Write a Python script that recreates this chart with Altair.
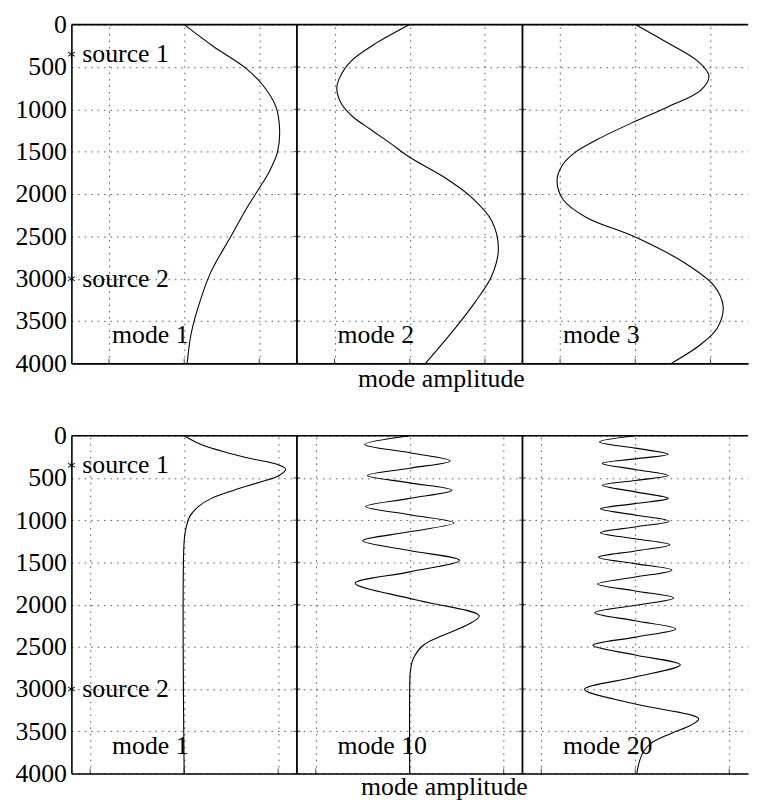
import altair as alt
import pandas as pd

# ---------------- data ----------------
depth_ticks = [0, 500, 1000, 1500, 2000, 2500, 3000, 3500, 4000]
source_labels = ["source 1", "source 2"]
source_depths = [350, 3000]

top_modes = ["mode 1", "mode 2", "mode 3"]
top_depths = [
    [0, 258, 508, 719, 969, 1258, 1508, 1739, 1930, 2200, 2488, 2931, 3354, 3662, 4000],
    [0, 238, 431, 623, 758, 931, 1085, 1238, 1400, 1566, 1815, 2046, 2315, 2642, 2969, 3277, 3623, 4000],
    [0, 200, 431, 604, 777, 969, 1142, 1354, 1508, 1660, 1835, 2065, 2277, 2508, 2815, 3085, 3335, 3585, 3777, 4000],
]
top_amps = [
    [0, 0.39, 0.81, 1.05, 1.22, 1.27, 1.24, 1.13, 1.00, 0.81, 0.63, 0.35, 0.18, 0.09, 0.04],
    [0, -0.48, -0.78, -0.93, -0.97, -0.91, -0.76, -0.52, -0.26, 0, 0.48, 0.83, 1.09, 1.18, 1.09, 0.87, 0.57, 0.21],
    [0, 0.40, 0.83, 0.98, 0.87, 0.44, 0, -0.50, -0.80, -0.97, -1.04, -0.96, -0.65, 0, 0.66, 1.05, 1.17, 1.09, 0.87, 0.48],
]

bottom_modes = ["mode 1", "mode 10", "mode 20"]
bottom_depths = [
    [0, 104, 201, 278, 336, 394, 471, 549, 645, 742, 839, 955, 1090, 1244, 4000],
    [0, 104, 201, 298, 385, 471, 558, 645, 742, 839, 936, 1032, 1138, 1244, 1360, 1476, 1612, 1747,
     1940, 2133, 2230, 2365, 2481, 2635, 2790, 2983, 4000],
    [0, 73, 147, 220, 274, 328, 400, 472, 530, 587, 665, 742, 804, 866, 939, 1012, 1080, 1148, 1220,
     1291, 1365, 1438, 1515, 1592, 1674, 1755, 1838, 1921, 2008, 2095, 2192, 2288, 2385, 2481, 2597,
     2713, 2858, 3003, 3177, 3351, 3428, 3525, 3640, 3737, 3853, 4000],
]
bottom_amps = [
    [0, 0.18, 0.46, 0.74, 0.98, 1.08, 1.01, 0.81, 0.53, 0.29, 0.15, 0.06, 0.02, 0, 0],
    [0, -0.48, 0, 0.43, 0, -0.45, 0, 0.45, 0, -0.47, 0, 0.47, 0, -0.50, 0, 0.53, 0, -0.58,
     0.05, 0.74, 0.63, 0.35, 0.145, 0.04, 0.007, 0, 0],
    [0, -0.38, 0, 0.35, 0, -0.35, 0, 0.35, 0, -0.35, 0, 0.35, 0, -0.37, 0, 0.36, 0, -0.37, 0,
     0.37, 0, -0.39, 0, 0.39, 0, -0.40, 0, 0.41, 0, -0.43, 0, 0.43, 0, -0.45, 0,
     0.48, 0, -0.54, 0, 0.675, 0.59, 0.38, 0.17, 0.09, 0.045, 0.017],
]

FONT = "Liberation Serif"
FS = 26
GRID_DASH = [1.5, 5]


def make_row(modes, depths, amps, half, width, height, title_x, title_y):
    pw = 2 * half                      # width of one panel in amplitude units
    lefts = [pw * i for i in range(3)]
    centers = [l + half for l in lefts]
    seps = lefts[1:]
    grid_vals = [c + g for c in centers for g in (-1, 0, 1)]

    curve_rows = []
    for m, ds, am, c in zip(modes, depths, amps, centers):
        for d, a in zip(ds, am):
            curve_rows.append({"mode": m, "depth": d, "x": c + a})
    curves = pd.DataFrame(curve_rows)

    sep_df = pd.DataFrame({"x": seps})
    top_df = pd.DataFrame({"depth": [0]})
    septick_df = pd.DataFrame([{"x": s, "depth": d} for s in seps for d in depth_ticks])
    btick_df = pd.DataFrame({"x": grid_vals + seps, "depth": [4000] * (len(grid_vals) + len(seps))})
    src_df = pd.DataFrame({"x": [0, 0], "depth": source_depths, "label": source_labels})
    lab_df = pd.DataFrame({"x": lefts, "depth": [3765] * 3, "label": modes})

    X = alt.X(
        "x:Q",
        scale=alt.Scale(domain=[0, 3 * pw], nice=False, zero=False),
        axis=alt.Axis(
            values=grid_vals, grid=True, gridDash=GRID_DASH, gridColor="#555", gridWidth=1,
            labels=False, ticks=False, domain=True, domainColor="black", domainWidth=1.6,
            title="mode amplitude", titleX=title_x, titleY=title_y,
            titleBaseline="alphabetic", titleAlign="center",
            titleFont=FONT, titleFontSize=FS, titleFontWeight="normal", titleColor="black",
        ),
    )
    Y = alt.Y(
        "depth:Q",
        scale=alt.Scale(domain=[0, 4000], reverse=True, nice=False, zero=False),
        axis=alt.Axis(
            values=depth_ticks, grid=True, gridDash=GRID_DASH, gridColor="#555", gridWidth=1,
            ticks=False, domain=True, domainColor="black", domainWidth=1.6,
            labelPadding=5, title=None, format="d",
            labelFont=FONT, labelFontSize=FS, labelColor="black",
        ),
    )

    lines = alt.Chart(curves).mark_line(
        color="black", strokeWidth=1.1, interpolate="catmull-rom"
    ).encode(x=X, y=Y, detail="mode:N", order="depth:Q")

    top_rule = alt.Chart(top_df).mark_rule(color="black", strokeWidth=1.6).encode(y=Y)

    sep = alt.Chart(sep_df).mark_rule(color="black", strokeWidth=1.8).encode(x=X)

    septick = alt.Chart(septick_df).mark_tick(
        orient="horizontal", size=7, thickness=1, color="black"
    ).encode(x=X, y=Y)

    btick = alt.Chart(btick_df).mark_tick(
        orient="vertical", size=5, thickness=1, color="black", yOffset=-2.5
    ).encode(x=X, y=Y)

    star = alt.Chart(src_df).mark_point(
        shape="M0,-1L0,1M-0.87,-0.5L0.87,0.5M-0.87,0.5L0.87,-0.5",
        size=64, filled=False, color="black", strokeWidth=1, opacity=1,
    ).encode(x=X, y=Y)

    src_text = alt.Chart(src_df).mark_text(
        align="left", baseline="middle", dx=11, font=FONT, fontSize=FS, color="black"
    ).encode(x=X, y=Y, text="label:N")

    mode_text = alt.Chart(lab_df).mark_text(
        align="left", baseline="alphabetic", dx=41, font=FONT, fontSize=FS, color="black"
    ).encode(x=X, y=Y, text="label:N")

    return alt.layer(lines, top_rule, sep, septick, btick, star, src_text, mode_text).properties(
        width=width, height=height
    )


top = make_row(top_modes, top_depths, top_amps, 1.5, 683, 342, 373, 23)
bottom = make_row(bottom_modes, bottom_depths, bottom_amps, 1.2, 683, 341, 376, 21)

chart = (
    alt.vconcat(top, bottom, spacing=32)
    .properties(padding={"left": 7, "top": 0, "right": 0, "bottom": 0})
    .configure(background="white")
    .configure_view(stroke=None)
    .configure_axis(
        labelFont=FONT, labelFontSize=FS, labelColor="black",
        titleFont=FONT, titleFontSize=FS, titleFontWeight="normal", titleColor="black",
    )
)

chart.save("out.html", embed_options={"renderer": "svg", "actions": False})
